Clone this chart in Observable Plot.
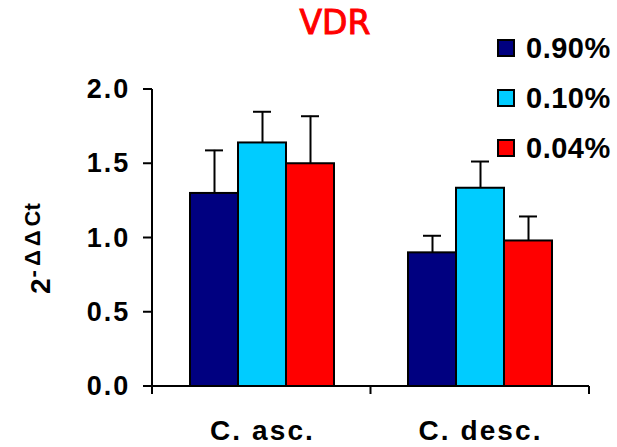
<!DOCTYPE html>
<html>
<head>
<meta charset="utf-8">
<script src="https://cdn.jsdelivr.net/npm/d3@7"></script>
<script src="https://cdn.jsdelivr.net/npm/@observablehq/plot@0.6"></script>
<style>
  html, body { margin: 0; padding: 0; background: #fff; }
  #wrap { position: relative; width: 617px; height: 447px; overflow: hidden; font-family: "Liberation Sans", Arial, sans-serif; }
  #wrap svg { position: absolute; left: 0; top: 0; }
  #title { position: absolute; left: 285px; width: 100px; top: 3px; text-align: center; color: #ff0000;
           font-family: "Comic Sans MS", "DejaVu Sans", sans-serif; font-size: 33px; line-height: 40px;
           -webkit-text-stroke: 1px #ff0000; }
  #legend { position: absolute; left: 497px; top: 23px; }
  .item { display: flex; align-items: center; height: 50px; }
  .sw { width: 14px; height: 14px; border: 2px solid #000; margin-right: 11px; }
  .lab { font-weight: bold; font-size: 29px; letter-spacing: 0.5px; color: #000; }
  #ytitle { position: absolute; left: 27px; top: 294px; transform: rotate(-90deg); transform-origin: 0 0;
            white-space: nowrap; font-weight: bold; font-size: 28px; line-height: 28px; color: #000; }
  #ytitle .sup { font-size: 22px; position: relative; top: -10px; margin-left: 1px; }
  #ytitle .d { letter-spacing: 4px; }
</style>
</head>
<body>
<div id="wrap">
  <div id="title">VDR</div>
  <div id="legend"></div>
  <div id="ytitle">2<span class="sup"><span class="d">-ΔΔ</span>Ct</span></div>
</div>
<script>
// ---- data ----
const categories = ["C. asc.", "C. desc."];
const series = ["0.90%", "0.10%", "0.04%"];
const colors = ["#000080", "#00CCFF", "#FF0000"];
const values090 = [1.30, 0.90];
const values010 = [1.64, 1.335];
const values004 = [1.50, 0.98];
const err090 = [0.29, 0.115];
const err010 = [0.21, 0.18];
const err004 = [0.32, 0.165];
const yTicks = [0, 0.5, 1.0, 1.5, 2.0];

const valueSets = [values090, values010, values004];
const errSets = [err090, err010, err004];
const data = [];
categories.forEach((c, ci) => {
  series.forEach((s, si) => {
    data.push({cat: c, series: s, value: valueSets[si][ci], err: errSets[si][ci]});
  });
});

// legend (built first so it always shows)
const legend = document.getElementById("legend");
series.forEach((s, i) => {
  const item = document.createElement("div");
  item.className = "item";
  const sw = document.createElement("div");
  sw.className = "sw";
  sw.style.background = colors[i];
  const lab = document.createElement("span");
  lab.className = "lab";
  lab.textContent = s;
  item.appendChild(sw);
  item.appendChild(lab);
  legend.appendChild(item);
});

const chart = Plot.plot({
  width: 617,
  height: 447,
  marginTop: 89,
  marginBottom: 61,
  marginLeft: 152,
  marginRight: 28,
  style: {fontFamily: "'Liberation Sans', Arial, sans-serif", fontWeight: "bold", color: "#000",
          background: "transparent", letterSpacing: "2.1px"},
  fx: {domain: categories, padding: 0, axis: null},
  x: {domain: series, paddingInner: 0, paddingOuter: 0.744, axis: null},
  y: {domain: [0, 2], axis: null},
  color: {domain: series, range: colors},
  marks: [
    Plot.axisY(yTicks, {tickSize: 0, tickPadding: 23, fontSize: 27, tickFormat: d3.format(".1f"), label: null}),
    Plot.axisFx({anchor: "bottom", tickSize: 0, tickPadding: 34, fontSize: 28, label: null}),
    Plot.ruleX(data, {fx: "cat", x: "series", y1: "value", y2: d => d.value + d.err, stroke: "#000", strokeWidth: 2}),
    Plot.tickY(data, {fx: "cat", x: "series", y: d => d.value + d.err, stroke: "#000", strokeWidth: 2, insetLeft: 15, insetRight: 15}),
    Plot.barY(data, {fx: "cat", x: "series", y: "value", fill: "series", stroke: "#000", strokeWidth: 2})
  ]
});

document.getElementById("wrap").prepend(chart);

// axis lines & tick marks, positioned from the plot's scales
const svg = d3.select(chart);
const fxS = chart.scale("fx");
const yS = chart.scale("y");
const fx = d3.scaleBand().domain(fxS.domain).range(fxS.range)
  .paddingInner(fxS.paddingInner ?? 0).paddingOuter(fxS.paddingOuter ?? 0).align(fxS.align ?? 0.5);
const y = d3.scaleLinear().domain(yS.domain).range(yS.range);
const y0 = y(0), yTop = y(2);
const xStart = fx(categories[0]);
const xEnd = fx(categories[categories.length - 1]) + fx.bandwidth();
const g = svg.append("g").attr("stroke", "#000").attr("stroke-width", 2).attr("fill", "none");
g.append("line").attr("x1", xStart).attr("x2", xStart).attr("y1", yTop).attr("y2", y0 + 8);
g.append("line").attr("x1", xStart).attr("x2", xEnd).attr("y1", y0).attr("y2", y0);
yTicks.forEach(t => g.append("line").attr("x1", xStart - 9).attr("x2", xStart).attr("y1", y(t)).attr("y2", y(t)));
const bounds = categories.map(c => fx(c)).concat([xEnd]);
bounds.forEach(b => g.append("line").attr("x1", b).attr("x2", b).attr("y1", y0).attr("y2", y0 + 8));
</script>
</body>
</html>
